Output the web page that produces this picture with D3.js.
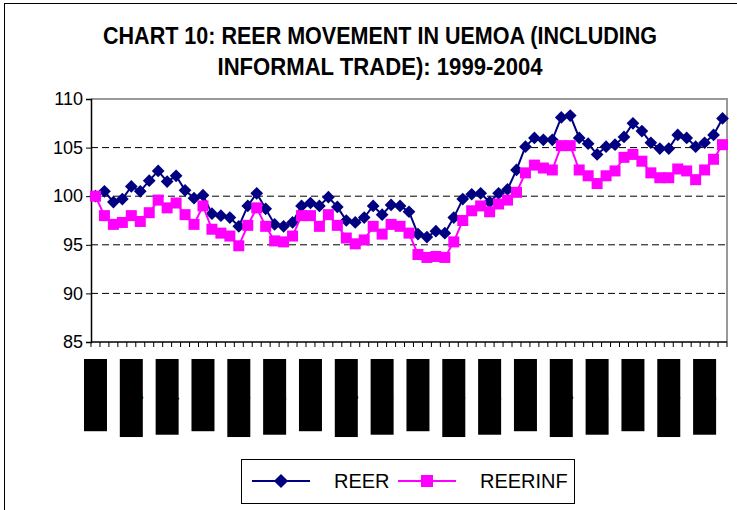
<!DOCTYPE html>
<html>
<head>
<meta charset="utf-8">
<script src="https://cdn.jsdelivr.net/npm/d3@7"></script>
<style>
  body { margin: 0; background: #fff; }
  text { font-family: "Liberation Sans", Arial, sans-serif; }
</style>
</head>
<body>
<script>
var width = 737,
    height = 510;

// monthly series, Jan 1999 onwards
var reer = [100.0, 100.5, 99.4, 99.7, 101.0, 100.5, 101.6, 102.6, 101.5, 102.1, 100.6, 99.8,
            100.1, 98.2, 98.0, 97.8, 96.9, 99.0, 100.3, 98.7, 97.1, 96.9, 97.3, 99.0,
            99.3, 99.0, 99.9, 98.9, 97.5, 97.3, 97.8, 99.0, 98.1, 99.1, 99.0, 98.4,
            96.1, 95.8, 96.4, 96.2, 97.8, 99.7, 100.2, 100.3, 99.4, 100.3, 100.7, 102.7,
            105.1, 106.0, 105.8, 105.8, 108.1, 108.3, 106.0, 105.4, 104.3, 105.1, 105.3, 106.1,
            107.5, 106.7, 105.5, 104.9, 104.9, 106.3, 106.0, 105.1, 105.5, 106.3, 108.0];
var reerinf = [100.0, 98.0, 97.1, 97.3, 98.0, 97.4, 98.3, 99.6, 98.8, 99.3, 98.1, 97.1,
               99.0, 96.6, 96.2, 95.9, 94.9, 97.0, 98.8, 96.9, 95.4, 95.3, 95.9, 98.0,
               98.0, 96.9, 98.1, 97.0, 95.7, 95.1, 95.5, 96.9, 96.1, 97.1, 96.9, 96.2,
               94.0, 93.7, 93.8, 93.7, 95.3, 97.5, 98.5, 99.0, 98.4, 99.2, 99.6, 100.4,
               102.4, 103.2, 102.9, 102.7, 105.2, 105.2, 102.7, 102.1, 101.3, 102.1, 102.6, 104.0,
               104.3, 103.6, 102.4, 101.9, 101.9, 102.8, 102.6, 101.7, 102.7, 103.8, 105.3];
var months = ["Jan", "Feb", "Mar", "Apr", "May", "Jun", "Jul", "Aug", "Sep", "Oct", "Nov", "Dec"];
var yTicks = [85, 90, 95, 100, 105, 110];
var titleLines = ["CHART 10: REER MOVEMENT IN UEMOA (INCLUDING", "INFORMAL TRADE): 1999-2004"];
var seriesNames = ["REER", "REERINF"];

var categories = reer.map(function(d, i) {
    var yr = (1999 + Math.floor(i / 12)) % 100;
    return months[i % 12] + "-" + (yr < 10 ? "0" + yr : yr);
});

var svg = d3.select("body").append("svg")
    .attr("width", width)
    .attr("height", height);

// outer chart border (only top and left show)
svg.append("rect")
    .attr("x", 4.5).attr("y", 3.5)
    .attr("width", 760).attr("height", 540)
    .attr("fill", "none").attr("stroke", "#000").attr("stroke-width", 1);

var plot = {left: 91, right: 727, top: 99, bottom: 342};

var x = d3.scaleBand()
    .domain(d3.range(reer.length))
    .range([plot.left, plot.right]);
var y = d3.scaleLinear()
    .domain([85, 110])
    .range([plot.bottom, plot.top]);

function cx(i) { return x(i) + x.bandwidth() / 2; }

// title
svg.selectAll(".title")
    .data(titleLines)
    .enter().append("text")
    .attr("class", "title")
    .attr("x", 380)
    .attr("y", function(d, i) { return 44 + i * 31; })
    .attr("text-anchor", "middle")
    .attr("font-size", 23)
    .attr("font-weight", "bold")
    .attr("textLength", function(d, i) { return i == 0 ? 554 : 325; })
    .attr("lengthAdjust", "spacingAndGlyphs")
    .text(function(d) { return d; });

// gridlines
svg.selectAll(".grid")
    .data(yTicks.filter(function(d) { return d > 85 && d < 110; }))
    .enter().append("line")
    .attr("x1", plot.left).attr("x2", plot.right)
    .attr("y1", function(d) { return y(d); })
    .attr("y2", function(d) { return y(d); })
    .attr("stroke", "#000")
    .attr("stroke-width", 1)
    .attr("stroke-dasharray", "7,4");

// plot area border (top + right)
svg.append("path")
    .attr("d", "M" + plot.left + "," + plot.top + "H" + plot.right + "V" + plot.bottom)
    .attr("fill", "none")
    .attr("stroke", "#999")
    .attr("stroke-width", 2);

// y axis
var yAxis = svg.append("g")
    .attr("transform", "translate(" + plot.left + ",0)")
    .call(d3.axisLeft(y).tickValues(yTicks).tickSize(5).tickPadding(3));
yAxis.select(".domain").attr("stroke-width", 1.5);
yAxis.selectAll("text")
    .attr("font-size", 18)
    .attr("fill", "#000")
    .style("font-family", "'Liberation Sans', Arial, sans-serif");

// x axis, ticks between categories
var xAxis = svg.append("g")
    .attr("transform", "translate(0," + plot.bottom + ")");
xAxis.append("line")
    .attr("x1", plot.left).attr("x2", plot.right)
    .attr("stroke", "#000").attr("stroke-width", 1.5);
xAxis.selectAll(".xtick")
    .data(d3.range(reer.length + 1))
    .enter().append("line")
    .attr("x1", function(d) { return plot.left + d * x.step(); })
    .attr("x2", function(d) { return plot.left + d * x.step(); })
    .attr("y1", 0).attr("y2", 5)
    .attr("stroke", "#000");

// category labels: every 4th month, rotated, shown as black blocks
var labelIdx = d3.range(0, reer.length, 4);
var lab = svg.selectAll(".xlab")
    .data(labelIdx)
    .enter().append("g")
    .attr("class", "xlab")
    .attr("transform", function(d) { return "translate(" + cx(d) + ",359) rotate(-90)"; });
lab.append("text")
    .attr("text-anchor", "end")
    .attr("dy", "0.35em")
    .attr("font-size", 21)
    .attr("fill", "#000")
    .text(function(d) { return categories[d]; });
lab.each(function() {
    var g = d3.select(this);
    var len = g.select("text").node().getComputedTextLength();
    g.insert("rect", "text")
        .attr("x", -len - 8)
        .attr("y", -11.5)
        .attr("width", len + 8)
        .attr("height", 23)
        .attr("fill", "#000");
});

var line = d3.line()
    .x(function(d, i) { return cx(i); })
    .y(function(d) { return y(d); });

// REER first, pink drawn on top
svg.append("path")
    .datum(reer)
    .attr("d", line)
    .attr("fill", "none")
    .attr("stroke", "#000080")
    .attr("stroke-width", 2);
svg.selectAll(".reer")
    .data(reer)
    .enter().append("path")
    .attr("class", "reer")
    .attr("transform", function(d, i) { return "translate(" + cx(i) + "," + y(d) + ") rotate(45)"; })
    .attr("d", "M-4.5,-4.5H4.5V4.5H-4.5Z")
    .attr("fill", "#000080");

svg.append("path")
    .datum(reerinf)
    .attr("d", line)
    .attr("fill", "none")
    .attr("stroke", "#ff00ff")
    .attr("stroke-width", 2);
svg.selectAll(".reerinf")
    .data(reerinf)
    .enter().append("rect")
    .attr("class", "reerinf")
    .attr("x", function(d, i) { return cx(i) - 5.5; })
    .attr("y", function(d) { return y(d) - 5.5; })
    .attr("width", 11).attr("height", 11)
    .attr("fill", "#ff00ff");

// legend
var legend = svg.append("g").attr("transform", "translate(241,459)");
legend.append("rect")
    .attr("x", 0.5).attr("y", 0.5)
    .attr("width", 333).attr("height", 44)
    .attr("fill", "#fff").attr("stroke", "#000");
var legColors = ["#000080", "#ff00ff"];
var legX = [11, 157];
var li = legend.selectAll(".leg")
    .data(seriesNames)
    .enter().append("g")
    .attr("transform", function(d, i) { return "translate(" + legX[i] + ",22)"; });
li.append("line")
    .attr("x1", 0).attr("x2", 58)
    .attr("stroke", function(d, i) { return legColors[i]; })
    .attr("stroke-width", 2);
li.append("path")
    .attr("transform", function(d, i) { return "translate(29,0)" + (i == 0 ? " rotate(45)" : ""); })
    .attr("d", function(d, i) { return i == 0 ? "M-5,-5H5V5H-5Z" : "M-6,-6H6V6H-6Z"; })
    .attr("fill", function(d, i) { return legColors[i]; });
li.append("text")
    .attr("x", 82)
    .attr("dy", "0.35em")
    .attr("font-size", 20)
    .attr("fill", "#000")
    .text(function(d) { return d; });
</script>
</body>
</html>
